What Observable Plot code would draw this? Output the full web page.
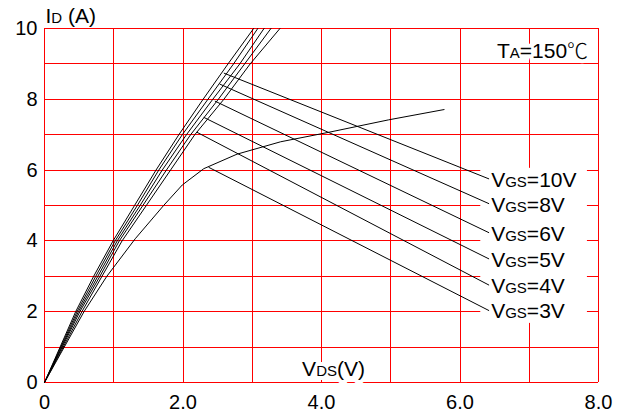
<!DOCTYPE html>
<html>
<head>
<meta charset="utf-8">
<script src="https://cdn.jsdelivr.net/npm/d3@7"></script>
<script src="https://cdn.jsdelivr.net/npm/@observablehq/plot@0.6"></script>
<style>
  html, body { margin: 0; padding: 0; background: #fff; }
  #chart svg { display: block; }
</style>
</head>
<body>
<div id="chart"></div>
<script>
// ---- data ----
const xTicks = [0, 1, 2, 3, 4, 5, 6, 7, 8];          // red vertical grid
const yTicks = [0, 1, 2, 3, 4, 5, 6, 7, 8, 9, 10];   // red horizontal grid

// steep curves: VDS at given ID levels
const idLevels = [0, 2, 3, 4, 5, 6, 7, 8, 9, 10];
const vds10 = [0, 0.45, 0.71, 0.99, 1.30, 1.61, 1.94, 2.29, 2.65, 3.02];
const vds8  = [0, 0.47, 0.74, 1.02, 1.34, 1.65, 1.99, 2.36, 2.73, 3.08];
const vds6  = [0, 0.49, 0.77, 1.05, 1.38, 1.70, 2.05, 2.43, 2.82, 3.17];
const vds5  = [0, 0.51, 0.80, 1.08, 1.42, 1.76, 2.11, 2.51, 2.89, 3.27];
const vds4  = [0, 0.54, 0.83, 1.12, 1.47, 1.82, 2.17, 2.59, 2.97, 3.40];
// VGS = 3V curve
const vds3 = [0, 0.57, 0.90, 1.31, 1.72, 1.99, 2.30, 2.78, 3.41, 4.11, 4.97, 5.77];
const id3  = [0, 2.0, 3.0, 4.06, 5.0, 5.58, 6.04, 6.45, 6.80, 7.07, 7.42, 7.71];

// series labels and their leader lines
const vgsNames = ["10V", "8V", "6V", "5V", "4V", "3V"];
const leaderVds = [2.59, 2.53, 2.46, 2.30, 2.20, 2.37];
const leaderId  = [8.74, 8.43, 7.95, 7.49, 7.07, 6.08];
const labelId   = [5.72, 5.02, 4.20, 3.46, 2.72, 2.00];

const xTickLabels = [0, 2, 4, 6, 8];
const yTickLabels = [0, 2, 4, 6, 8, 10];

// ---- build tables ----
const steep = [vds10, vds8, vds6, vds5, vds4];
const curves = [];
steep.forEach((arr, k) => arr.forEach((v, i) => curves.push({s: vgsNames[k], x: v, y: idLevels[i]})));
vds3.forEach((v, i) => curves.push({s: "3V", x: v, y: id3[i]}));

const labelX = 6.45;
const labels = vgsNames.map((n, i) => ({
  text: "V_GS_=" + n, y: labelId[i],
  x1: leaderVds[i], y1: leaderId[i], x2: labelX - 0.03, y2: labelId[i] + 0.03
}));
const box = [{
  x1: labelX - 0.15, x2: labelX + 1.39,
  y1: d3.min(labelId) - 0.33, y2: d3.max(labelId) + 0.33
}];

const font = "'Liberation Sans', Arial, sans-serif";
const taText = ["T_A_=150℃"];
const vdsText = ["V_DS_(V)"];

const chart = Plot.plot({
  width: 626,
  height: 413,
  marginLeft: 44,
  marginRight: 28,
  marginTop: 28,
  marginBottom: 31,
  style: {fontFamily: font, fontSize: "20px", color: "#000", background: "#fff"},
  x: {domain: [0, 8], ticks: xTickLabels, tickSize: 0, tickPadding: 12,
      tickFormat: d => d === 0 ? "0" : d.toFixed(1), label: null},
  y: {domain: [0, 10], ticks: yTickLabels, tickSize: 0, tickPadding: 7,
      tickFormat: d => String(d), label: null},
  marks: [
    Plot.ruleX(xTicks, {stroke: "#ff0000", strokeWidth: 1, shapeRendering: "crispEdges"}),
    Plot.ruleY(yTicks, {stroke: "#ff0000", strokeWidth: 1, shapeRendering: "crispEdges"}),
    Plot.rect(box, {x1: "x1", x2: "x2", y1: "y1", y2: "y2", fill: "#fff"}),
    Plot.line(curves, {x: "x", y: "y", z: "s", stroke: "#000", strokeWidth: 1, curve: "linear"}),
    Plot.link(labels, {x1: "x1", y1: "y1", x2: "x2", y2: "y2", stroke: "#000", strokeWidth: 1}),
    Plot.text(labels, {x: labelX, y: "y", text: "text", textAnchor: "start", fontSize: 21, fill: "#000"}),
    // white halos behind annotations, then the annotations themselves
    Plot.text(taText, {x: 7.85, y: 9.35, text: d => d, textAnchor: "end", fontSize: 21,
      fill: "#fff", stroke: "#fff", strokeWidth: 8}),
    Plot.text(taText, {x: 7.85, y: 9.35, text: d => d, textAnchor: "end", fontSize: 21, fill: "#000"}),
    Plot.text(vdsText, {x: 3.72, y: 0.37, text: d => d, textAnchor: "start", fontSize: 21,
      fill: "#fff", stroke: "#fff", strokeWidth: 8}),
    Plot.text(vdsText, {x: 3.72, y: 0.37, text: d => d, textAnchor: "start", fontSize: 21, fill: "#000"}),
    Plot.text(["I_D_ (A)"], {frameAnchor: "top-left", lineAnchor: "middle", dx: 1, dy: -12, text: d => d,
      textAnchor: "start", fontSize: 21, fill: "#000"})
  ]
});

// render smaller letters (same baseline) as tspans; ℃ in a CJK face
const NS = "http://www.w3.org/2000/svg";
chart.querySelectorAll("text").forEach(t => {
  const s = t.textContent;
  if (!s.includes("_")) return;
  const parts = s.split("_");
  t.textContent = "";
  parts.forEach((p, i) => {
    if (!p) return;
    const pieces = p.split(/(℃)/);
    pieces.forEach(q => {
      if (!q) return;
      const ts = document.createElementNS(NS, "tspan");
      ts.textContent = q;
      if (i % 2 === 1) ts.setAttribute("font-size", "15px");
      if (q === "℃") {
        ts.setAttribute("font-family", "'Noto Sans CJK SC', sans-serif");
        ts.setAttribute("font-weight", "300");
      }
      t.appendChild(ts);
    });
  });
});

document.getElementById("chart").appendChild(chart);
</script>
</body>
</html>
